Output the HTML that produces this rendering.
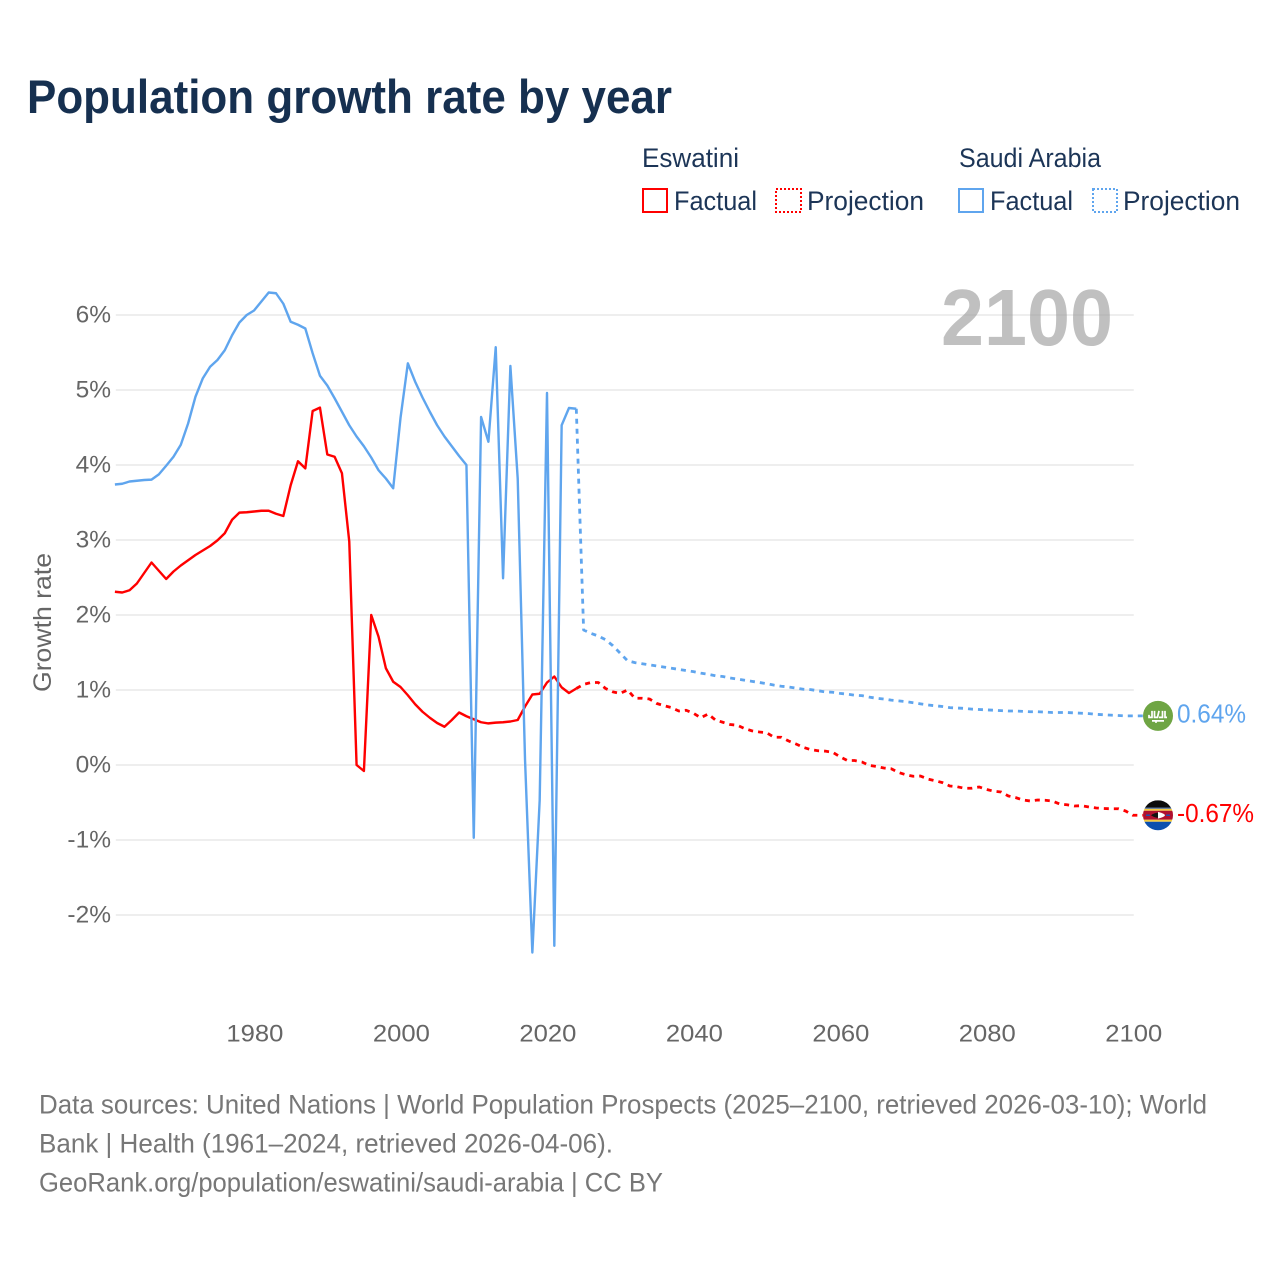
<!DOCTYPE html>
<html lang="en">
<head>
<meta charset="utf-8">
<title>Population growth rate by year</title>
<style>
html,body{margin:0;padding:0;background:#fff;}
svg{display:block;font-family:"Liberation Sans",sans-serif;}
</style>
</head>
<body>
<svg id="chart" xmlns="http://www.w3.org/2000/svg" width="1280" height="1280" viewBox="0 0 1280 1280">
  <rect width="1280" height="1280" fill="#fff"/>
  <defs>
    <clipPath id="flagClipA"><circle cx="0" cy="0" r="15"/></clipPath>
  </defs>
  <text x="27" y="113" font-size="47" font-weight="700" fill="#163050" textLength="645" lengthAdjust="spacingAndGlyphs">Population growth rate by year</text>

  <g font-size="27" fill="#1c3557">
    <text x="642" y="167" textLength="97" lengthAdjust="spacingAndGlyphs">Eswatini</text>
    <text x="959" y="167" textLength="142" lengthAdjust="spacingAndGlyphs">Saudi Arabia</text>
    <rect x="643" y="189" width="24" height="23" fill="none" stroke="#ff0000" stroke-width="2"/>
    <text x="674" y="210" textLength="83" lengthAdjust="spacingAndGlyphs">Factual</text>
    <rect x="776" y="189" width="25" height="23" fill="none" stroke="#ff0000" stroke-width="2" stroke-dasharray="2 2"/>
    <text x="807" y="210" textLength="117" lengthAdjust="spacingAndGlyphs">Projection</text>
    <rect x="959" y="189" width="24" height="23" fill="none" stroke="#5fa5ee" stroke-width="2"/>
    <text x="990" y="210" textLength="83" lengthAdjust="spacingAndGlyphs">Factual</text>
    <rect x="1093" y="189" width="24" height="23" fill="none" stroke="#5fa5ee" stroke-width="2" stroke-dasharray="2 2"/>
    <text x="1123" y="210" textLength="117" lengthAdjust="spacingAndGlyphs">Projection</text>
  </g>

  <g id="grid"></g>
  <text x="941" y="345" font-size="80" font-weight="700" fill="#999999" fill-opacity="0.62" textLength="172" lengthAdjust="spacingAndGlyphs">2100</text>
  <g id="yticks" font-size="24.5" fill="#666" text-anchor="end"></g>
  <g id="xticks" font-size="24.5" fill="#666" text-anchor="middle"></g>
  <text transform="translate(51 692) rotate(-90)" font-size="25" fill="#666" textLength="139" lengthAdjust="spacingAndGlyphs">Growth rate</text>
  <g id="series"></g>
  <g id="endmarks"></g>

  <g font-size="26.5" fill="#777">
    <text x="39" y="1113.5" textLength="1168" lengthAdjust="spacingAndGlyphs">Data sources: United Nations | World Population Prospects (2025–2100, retrieved 2026-03-10); World</text>
    <text x="39" y="1152.5" textLength="574" lengthAdjust="spacingAndGlyphs">Bank | Health (1961–2024, retrieved 2026-04-06).</text>
    <text x="39" y="1191.5" textLength="624" lengthAdjust="spacingAndGlyphs">GeoRank.org/population/eswatini/saudi-arabia | CC BY</text>
  </g>
</svg>
<script>
const factualStartYear = 1961;
const projectionStartYear = 2024;
const yTickValues = [-2,-1,0,1,2,3,4,5,6];
const xTickValues = [1980,2000,2020,2040,2060,2080,2100];

const eswatiniFactual = [2.31,2.30,2.33,2.42,2.56,2.70,2.59,2.48,2.58,2.66,2.73,2.80,2.86,2.92,2.995,3.09,3.27,3.365,3.37,3.38,3.39,3.39,3.35,3.32,3.73,4.05,3.955,4.72,4.765,4.14,4.11,3.89,2.98,0.0,-0.08,2.0,1.71,1.29,1.11,1.04,0.93,0.81,0.71,0.63,0.56,0.51,0.60,0.70,0.65,0.61,0.57,0.555,0.565,0.57,0.58,0.60,0.78,0.94,0.95,1.10,1.18,1.035,0.96,1.02];
const eswatiniProjection = [1.02,1.075,1.10,1.10,1.02,0.975,0.955,1.0,0.89,0.89,0.88,0.82,0.79,0.765,0.72,0.73,0.69,0.63,0.68,0.60,0.57,0.54,0.53,0.485,0.455,0.44,0.43,0.37,0.37,0.32,0.28,0.235,0.205,0.19,0.185,0.17,0.11,0.06,0.06,0.04,-0.005,-0.02,-0.04,-0.05,-0.10,-0.13,-0.15,-0.147,-0.187,-0.21,-0.235,-0.28,-0.29,-0.31,-0.31,-0.293,-0.325,-0.35,-0.36,-0.413,-0.435,-0.467,-0.48,-0.467,-0.47,-0.48,-0.52,-0.53,-0.547,-0.543,-0.56,-0.573,-0.58,-0.583,-0.583,-0.613,-0.67];
const saudiFactual = [3.74,3.75,3.78,3.79,3.80,3.805,3.875,3.99,4.11,4.27,4.555,4.91,5.155,5.31,5.40,5.53,5.73,5.90,6.0,6.06,6.18,6.30,6.29,6.15,5.91,5.87,5.82,5.49,5.19,5.06,4.89,4.71,4.53,4.38,4.25,4.10,3.93,3.82,3.69,4.63,5.355,5.11,4.90,4.71,4.53,4.38,4.25,4.12,4.00,-0.97,4.64,4.31,5.57,2.49,5.32,3.82,0.07,-2.50,-0.47,4.96,-2.41,4.53,4.76,4.75];
const saudiProjection = [4.75,1.80,1.755,1.72,1.67,1.59,1.49,1.39,1.365,1.35,1.335,1.32,1.305,1.29,1.275,1.26,1.245,1.225,1.21,1.19,1.18,1.16,1.145,1.13,1.115,1.10,1.085,1.065,1.05,1.04,1.025,1.01,1.005,0.99,0.975,0.97,0.955,0.945,0.93,0.925,0.905,0.89,0.88,0.865,0.855,0.845,0.83,0.815,0.80,0.79,0.78,0.765,0.76,0.755,0.745,0.74,0.735,0.73,0.725,0.72,0.72,0.715,0.71,0.71,0.705,0.70,0.70,0.70,0.695,0.69,0.685,0.675,0.67,0.665,0.66,0.655,0.655];
const endValueLabels = ['0.64%','-0.67%'];

const NS = 'http://www.w3.org/2000/svg';
const RED = '#ff0000', BLUE = '#5fa5ee';
function xScale(year){ return 114.9 + (year - 1961) * (1132.9 - 114.9) / (2100 - 1961); }
function yScale(v){ return 765 - v * 75; }
const flagX = 1158;
const axisNudge = 0.9;
function pathFrom(values, start, extendToFlag){
  let d = values.map((v,i)=>(i?'L':'M')+xScale(start+i).toFixed(2)+' '+yScale(v).toFixed(2)).join('');
  if(extendToFlag){ d += 'L'+(flagX-15)+' '+yScale(values[values.length-1]).toFixed(2); }
  return d;
}
function make(tag, attrs){
  const el = document.createElementNS(NS, tag);
  Object.keys(attrs).forEach(k=>el.setAttribute(k, attrs[k]));
  return el;
}

const grid = document.getElementById('grid');
const yticks = document.getElementById('yticks');
yTickValues.forEach(v=>{
  const ln = make('line',{x1:xScale(1961)+axisNudge,x2:xScale(2100)+axisNudge,y1:yScale(v),y2:yScale(v),stroke:'#eeeeee','stroke-width':2});
  
  
  grid.appendChild(ln);
  const t = make('text',{x:111,y:yScale(v)+7.5});
  
  
  t.textContent = v+'%';
  yticks.appendChild(t);
});
const xticks = document.getElementById('xticks');
xTickValues.forEach(y=>{
  const t = make('text',{x:xScale(y)+axisNudge,y:1041.5,textLength:57,lengthAdjust:'spacingAndGlyphs'});
  
  
  t.textContent = y;
  xticks.appendChild(t);
});

const seriesG = document.getElementById('series');
function addLine(name, values, start, color, dashed){
  const p = make('path',{d:pathFrom(values,start,dashed),fill:'none',stroke:color,'stroke-width':dashed?2.8:2.4,'stroke-linejoin':'round'});
  if(dashed){ p.setAttribute('stroke-dasharray','5 5'); }
  
  
  seriesG.appendChild(p);
}
addLine('eswatini-projection-line', eswatiniProjection, projectionStartYear, RED, true);
addLine('saudi-projection-line', saudiProjection, projectionStartYear, BLUE, true);
addLine('eswatini-factual-line', eswatiniFactual, factualStartYear, RED, false);
addLine('saudi-factual-line', saudiFactual, factualStartYear, BLUE, false);

const endG = document.getElementById('endmarks');
function addLabel(name, value, text, color){
  const t = make('text',{x:1177,y:yScale(value)+6.5,'font-size':26,fill:color,textLength:text.length>5?77:69,lengthAdjust:'spacingAndGlyphs'});
  
  
  t.textContent = text;
  endG.appendChild(t);
}
const lastSaudi = saudiProjection[saudiProjection.length-1];
const lastEswatini = eswatiniProjection[eswatiniProjection.length-1];

const saudiFlag = make('g',{transform:'translate('+flagX+' '+yScale(lastSaudi)+')'});


saudiFlag.appendChild(make('circle',{r:15,fill:'#6fa544'}));
saudiFlag.appendChild(make('path',{d:'M-9 -1V1.5H-6V-5M-3.5 -5V1.5H-0.5L1 -5M1 1.5H4.5V-5M7 -5V1.5H9',fill:'none',stroke:'#fff','stroke-width':1.7}));
saudiFlag.appendChild(make('path',{d:'M-6 5H6M-2 5V7',fill:'none',stroke:'#fff','stroke-width':1.8}));
endG.appendChild(saudiFlag);

const eswFlag = make('g',{transform:'translate('+flagX+' '+yScale(lastEswatini)+')','clip-path':'url(#flagClipA)'});


[['#0b0b0b',-15,7.5],['#2255b0',-7.5,1],['#f5c93c',-6.5,2],['#b01030',-4.5,9],['#f5c93c',4.5,2],['#0b4fae',6.5,9]].forEach(b=>{
  eswFlag.appendChild(make('rect',{x:-15,y:b[1],width:30,height:b[2],fill:b[0]}));
});
eswFlag.appendChild(make('path',{d:'M-7 0Q0 -5 7 0Q0 5 -7 0Z',fill:'#111'}));
eswFlag.appendChild(make('path',{d:'M0 -3.4Q7 -1.5 7 0Q7 1.5 0 3.4Z',fill:'#fff'}));
eswFlag.appendChild(make('path',{d:'M-12 0H-8M8 0H12',stroke:'#1f4fb0','stroke-width':1.5,fill:'none'}));
endG.appendChild(eswFlag);

addLabel('saudi-end-value', lastSaudi, endValueLabels[0], BLUE);
addLabel('eswatini-end-value', lastEswatini, endValueLabels[1], RED);
</script>
</body>
</html>
